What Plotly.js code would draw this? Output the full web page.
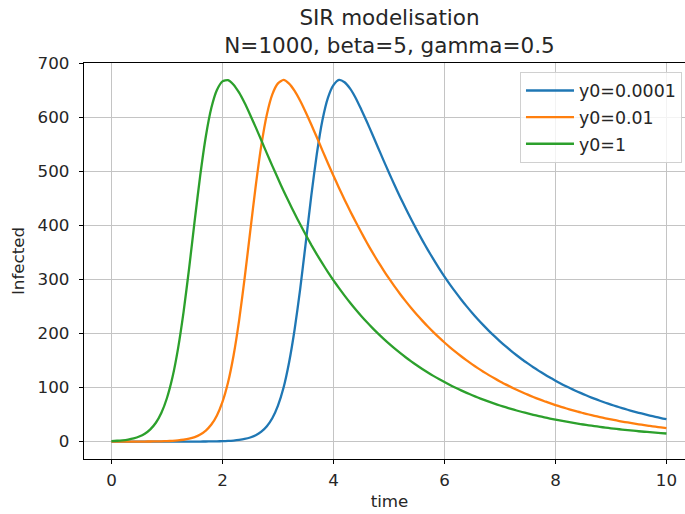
<!DOCTYPE html>
<html>
<head>
<meta charset="utf-8">
<script src="https://cdn.plot.ly/plotly-3.0.1.min.js"></script>
<style>
html, body { margin: 0; padding: 0; overflow: hidden; background: #fff; }
#chart { width: 700px; height: 514px; }
</style>
</head>
<body>
<div id="chart"></div>
<script>
var time = [0,0.1,0.2,0.3,0.4,0.5,0.6,0.7,0.8,0.9,1,1.1,1.2,1.3,1.4,1.5,1.6,1.7,1.8,1.9,2,2.1,2.2,2.3,2.4,2.5,2.6,2.7,2.8,2.9,3,3.1,3.2,3.3,3.4,3.5,3.6,3.7,3.8,3.9,4,4.1,4.2,4.3,4.4,4.5,4.6,4.7,4.8,4.9,5,5.1,5.2,5.3,5.4,5.5,5.6,5.7,5.8,5.9,6,6.1,6.2,6.3,6.4,6.5,6.6,6.7,6.8,6.9,7,7.1,7.2,7.3,7.4,7.5,7.6,7.7,7.8,7.9,8,8.1,8.2,8.3,8.4,8.5,8.6,8.7,8.8,8.9,9,9.1,9.2,9.3,9.4,9.5,9.6,9.7,9.8,9.9,10];

var infectedY0_0001 = [0.0001,0.00016,0.00025,0.00039,0.0006,0.00095,0.0015,0.0023,0.0037,0.0057,0.009,0.0141,0.0221,0.0347,0.0545,0.0854,0.134,0.21,0.33,0.517,0.81,1.27,1.99,3.11,4.86,7.59,11.8,18.4,28.5,43.8,66.7,99.7,146.5,207.5,282.5,367.5,455,532.5,594.5,636.5,660,669.7,665.3,653.5,636.3,615.1,592.6,569.1,545.1,521.2,497.9,475,453.1,432,411.6,392.1,373.1,355,337.8,321.4,305.6,290.8,276.7,263.2,250.4,238.2,226.6,215.6,205.1,195.2,185.7,176.7,168.1,159.9,152.1,144.8,137.7,131,124.6,118.5,112.8,107.3,102.1,97.1,92.4,87.9,83.6,79.5,75.7,72,68.5,65.2,62,59,56.1,53.4,50.8,48.3,46,43.7,41.6];

var infectedY0_001 = [0.01,0.0157,0.0246,0.0386,0.0605,0.0949,0.149,0.233,0.366,0.574,0.9,1.41,2.21,3.46,5.41,8.44,13.2,20.5,31.6,48.5,73.5,109.4,159.5,224.5,303.1,389.3,474,548.5,605.8,643.4,663.3,669.7,662.8,649.4,631.2,609.9,587.1,563.4,539.3,515.5,492.3,469.6,447.9,427.1,406.9,387.5,368.6,350.7,333.8,317.6,302.1,287.4,273.4,260.1,247.4,235.4,224,213,202.7,192.9,183.5,174.6,166.1,158,150.3,143,136.1,129.5,123.1,117.1,111.5,106,100.9,96,91.3,86.9,82.6,78.6,74.8,71.1,67.7,64.4,61.3,58.3,55.4,52.8,50.2,47.7,45.4,43.2,41.1,39.1,37.2,35.4,33.7,32.1,30.4,29,27.6,26.2,25];

var infectedY0_1 = [1,1.57,2.46,3.84,6,9.36,14.6,22.7,34.9,53.4,80.7,119.5,172.7,240.7,321.8,409.4,493.3,565,618,651,667,669.2,660.9,646,626.8,604.8,581.8,557.9,533.7,510.1,487,464.4,443,422.3,402.3,383.1,364.3,346.7,329.9,313.9,298.6,284.1,270.3,257.1,244.6,232.7,221.4,210.6,200.4,190.7,181.4,172.6,164.2,156.2,148.6,141.4,134.5,128,121.7,115.8,110.2,104.8,99.7,94.9,90.3,85.9,81.7,77.7,73.9,70.3,66.9,63.7,60.6,57.6,54.8,52.2,49.6,47.2,44.9,42.7,40.6,38.7,36.8,35,33.3,31.7,30.1,28.7,27.3,25.9,24.7,23.5,22.3,21.2,20.2,19.2,18.3,17.4,16.5,15.7,15];

var seriesNames = ["y0=0.0001", "y0=0.01", "y0=1"];
var seriesColors = ["#1f77b4", "#ff7f0e", "#2ca02c"];
var seriesValues = [infectedY0_0001, infectedY0_001, infectedY0_1];
var xTicks = [0, 2, 4, 6, 8, 10];
var yTicks = [0, 100, 200, 300, 400, 500, 600, 700];

var font = "DejaVu Sans, Liberation Sans, sans-serif";
var textColor = "#262626";
var baseSize = 16.7;

var traces = seriesValues.map(function (vals, i) {
  return {
    x: time,
    y: vals,
    type: "scatter",
    mode: "lines",
    name: seriesNames[i],
    legendgroup: "g" + i,
    line: { color: seriesColors[i], width: 2.3, shape: "spline", smoothing: 0.6 }
  };
});

var axisCommon = {
  showline: true,
  mirror: true,
  linecolor: "#000",
  linewidth: 1.2,
  ticks: "outside",
  ticklen: 4,
  tickwidth: 1.2,
  tickcolor: "#000",
  showgrid: true,
  gridcolor: "#c4c4c4",
  gridwidth: 1.2,
  zeroline: false,
  tickfont: { family: font, size: baseSize, color: textColor }
};

var layout = {
  width: 700,
  height: 514,
  margin: { l: 84, r: 5, t: 63, b: 55 },
  paper_bgcolor: "#fff",
  plot_bgcolor: "#fff",
  font: { family: font, color: textColor },
  showlegend: true,
  title: {
    text: "SIR modelisation<br>N=1000, beta=5, gamma=0.5",
    font: { family: font, size: 21.5, color: textColor },
    xref: "paper",
    x: 0.5,
    xanchor: "center",
    yref: "container",
    y: 1 - 25 / 514,
    yanchor: "top"
  },
  xaxis: Object.assign({}, axisCommon, {
    range: [-0.495, 10.514],
    tickmode: "array",
    tickvals: xTicks,
    ticktext: xTicks.map(String),
    ticklabelstandoff: 2,
    title: { text: "time", font: { family: font, size: baseSize, color: textColor }, standoff: 6 }
  }),
  yaxis: Object.assign({}, axisCommon, {
    range: [-32.2, 701],
    tickmode: "array",
    tickvals: yTicks,
    ticktext: yTicks.map(String),
    ticklabelstandoff: 6,
    title: { text: "Infected", font: { family: font, size: baseSize, color: textColor }, standoff: 8 }
  }),
  legend: {
    x: 0.9787,
    xanchor: "right",
    y: 0.978,
    yanchor: "top",
    bgcolor: "rgba(255,255,255,0.8)",
    bordercolor: "#d0d0d0",
    borderwidth: 1,
    font: { family: font, size: 17.4, color: textColor },
    traceorder: "grouped",
    tracegroupgap: 1,
    itemwidth: 48
  }
};

Plotly.newPlot("chart", traces, layout, { displayModeBar: false, staticPlot: true });
</script>
</body>
</html>
